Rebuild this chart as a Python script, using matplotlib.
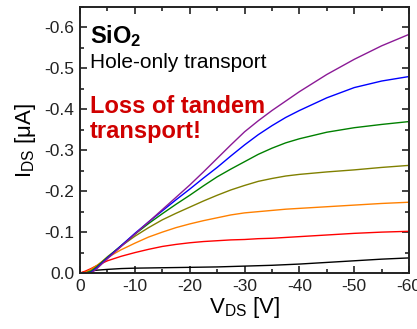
import numpy as np
import matplotlib
matplotlib.use("Agg")
import matplotlib.pyplot as plt
from matplotlib.ticker import MultipleLocator, FormatStrFormatter

plt.rcParams['font.family'] = ['Liberation Sans', 'DejaVu Sans']
plt.rcParams['mathtext.fontset'] = 'custom'
plt.rcParams['mathtext.rm'] = 'Liberation Sans'
plt.rcParams['mathtext.bf'] = 'Liberation Sans:bold'

# drain voltage grid [V] and |I_DS| [uA] for each gate voltage step
v_ds = [0, -1, -2, -3, -5, -7.5, -10, -12.5, -15, -17.5, -20, -22.5, -25,
        -27.5, -30, -32.5, -35, -37.5, -40, -45, -50, -55, -60]

i_black  = [0.000, 0.003, 0.005, 0.007, 0.009, 0.011, 0.012, 0.0125, 0.013, 0.0135, 0.014, 0.0145,
            0.015, 0.016, 0.017, 0.018, 0.019, 0.0205, 0.022, 0.026, 0.030, 0.034, 0.037]
i_red    = [0.000, 0.005, 0.011, 0.018, 0.030, 0.041, 0.050, 0.058, 0.065, 0.070, 0.074, 0.077,
            0.079, 0.081, 0.082, 0.084, 0.085, 0.087, 0.089, 0.093, 0.097, 0.100, 0.102]
i_orange = [0.000, 0.002, 0.009, 0.018, 0.038, 0.057, 0.073, 0.088, 0.100, 0.111, 0.120, 0.128,
            0.135, 0.142, 0.147, 0.150, 0.153, 0.156, 0.158, 0.162, 0.166, 0.170, 0.173]
i_olive  = [0.000, 0.000, 0.006, 0.016, 0.040, 0.066, 0.090, 0.111, 0.130, 0.146, 0.161, 0.176,
            0.190, 0.203, 0.214, 0.224, 0.231, 0.237, 0.241, 0.247, 0.252, 0.258, 0.263]
i_green  = [0.000, 0.000, 0.004, 0.014, 0.038, 0.067, 0.095, 0.121, 0.145, 0.168, 0.190, 0.213,
            0.235, 0.254, 0.272, 0.290, 0.305, 0.318, 0.328, 0.344, 0.355, 0.363, 0.370]
i_blue   = [0.000, 0.000, 0.002, 0.012, 0.037, 0.067, 0.097, 0.125, 0.152, 0.179, 0.205, 0.232,
            0.258, 0.286, 0.313, 0.338, 0.360, 0.380, 0.397, 0.428, 0.453, 0.469, 0.480]
i_purple = [0.000, 0.000, 0.000, 0.010, 0.035, 0.065, 0.095, 0.125, 0.155, 0.185, 0.215, 0.247,
            0.280, 0.313, 0.345, 0.372, 0.397, 0.420, 0.443, 0.485, 0.522, 0.555, 0.583]

curves = [
    (i_black, 'black'),
    (i_red, '#ff0000'),
    (i_orange, '#ff8000'),
    (i_olive, '#808000'),
    (i_green, '#008000'),
    (i_blue, '#0000ff'),
    (i_purple, '#8b1a96'),
]

fig = plt.figure(figsize=(4.17, 3.29), dpi=100)
ax = fig.add_axes([0.192, 0.170, 0.789, 0.809])

for vals, col in curves:
    ax.plot(v_ds, -np.array(vals), color=col, lw=1.0)

ax.set_xlim(0, -60)
ax.set_ylim(0, -0.65)

ax.xaxis.set_major_locator(MultipleLocator(10))
ax.xaxis.set_minor_locator(MultipleLocator(5))
ax.yaxis.set_major_locator(MultipleLocator(0.1))
ax.yaxis.set_minor_locator(MultipleLocator(0.05))
ax.yaxis.set_major_formatter(FormatStrFormatter('%.1f'))
ax.xaxis.set_major_formatter(FormatStrFormatter('%d'))

ax.tick_params(which='both', direction='in', top=True, right=True, width=1.2,
               labelsize=12.5, colors='#222222')
ax.tick_params(which='major', length=5, pad=4)
ax.tick_params(which='minor', length=3)
for sp in ax.spines.values():
    sp.set_linewidth(1.4)
    sp.set_color('#222222')

ax.set_xlabel(r'V$\mathregular{_{DS}}$ [V]', fontsize=16, labelpad=1)
ax.set_ylabel(r'I$\mathregular{_{DS}}$ [μA]', fontsize=16, labelpad=5)

ax.text(0.03, 0.865, r'$\mathbf{SiO_2}$', transform=ax.transAxes, fontsize=17,
        va='baseline')
ax.text(0.03, 0.771, 'Hole-only transport', transform=ax.transAxes, fontsize=15,
        va='baseline')
ax.text(0.03, 0.602, 'Loss of tandem', transform=ax.transAxes, fontsize=17,
        fontweight='bold', color='#d00000', va='baseline')
ax.text(0.03, 0.508, 'transport!', transform=ax.transAxes, fontsize=17,
        fontweight='bold', color='#d00000', va='baseline')

fig.savefig('out.png', dpi=100)
